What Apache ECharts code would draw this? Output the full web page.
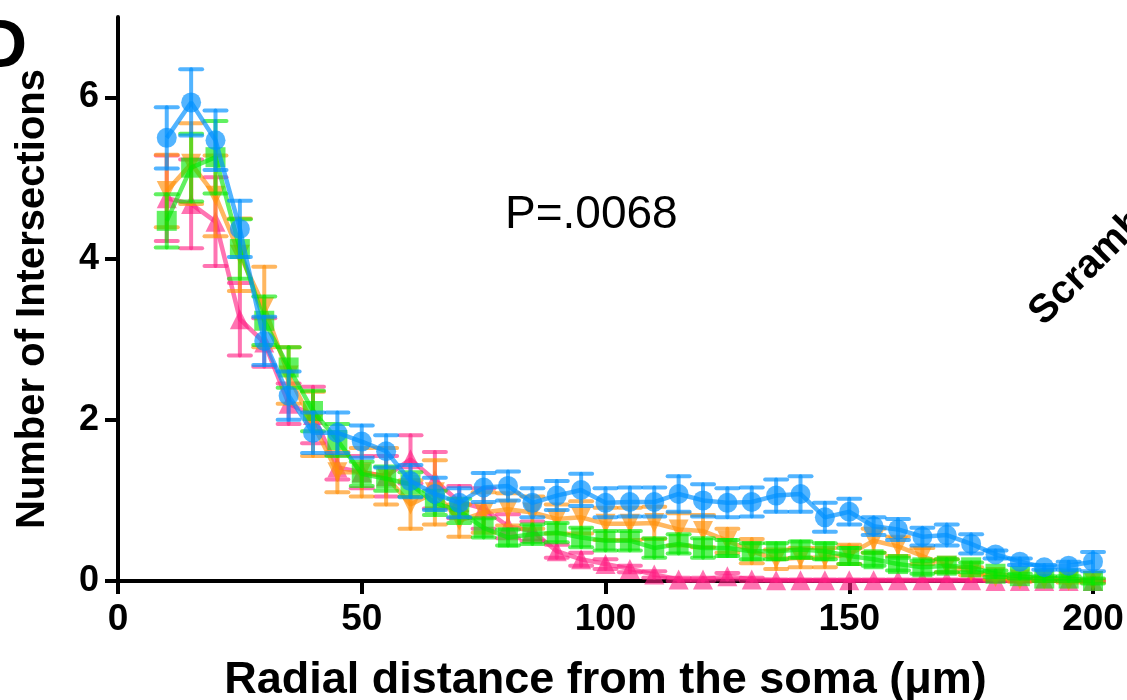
<!DOCTYPE html>
<html>
<head>
<meta charset="utf-8">
<script src="https://cdn.jsdelivr.net/npm/echarts@6/dist/echarts.min.js"></script>
<style>
html,body{margin:0;padding:0;background:#fff;}
#chart{width:1127px;height:700px;}
</style>
</head>
<body>
<div id="chart"></div>
<script>
// Radial distance (µm)
var radius = [10,15,20,25,30,35,40,45,50,55,60,65,70,75,80,85,90,95,100,105,110,115,120,125,130,135,140,145,150,155,160,165,170,175,180,185,190,195,200];

// Blue (circles)
var blueMean = [5.50,5.94,5.47,4.37,2.98,2.30,1.84,1.84,1.73,1.61,1.24,1.08,0.97,1.16,1.18,0.97,1.06,1.13,0.97,0.98,0.98,1.08,1.00,0.97,0.98,1.06,1.08,0.79,0.86,0.68,0.64,0.55,0.57,0.46,0.33,0.24,0.17,0.19,0.24];
var blueErr  = [0.38,0.41,0.37,0.35,0.30,0.30,0.25,0.25,0.20,0.20,0.20,0.20,0.18,0.18,0.18,0.18,0.18,0.20,0.18,0.18,0.18,0.22,0.20,0.18,0.18,0.20,0.22,0.18,0.16,0.11,0.13,0.11,0.13,0.12,0.05,0.04,0.03,0.05,0.12];

// Orange (inverted triangles)
var orangeMean = [4.84,5.18,4.78,4.05,3.40,2.55,1.95,1.35,1.35,1.30,0.95,1.10,0.75,0.85,0.89,0.85,0.77,0.79,0.71,0.71,0.72,0.64,0.62,0.50,0.37,0.27,0.29,0.29,0.33,0.50,0.43,0.31,0.19,0.12,0.05,0.02,0.02,0.00,0.00];
var orangeErr  = [0.45,0.50,0.50,0.45,0.50,0.35,0.40,0.25,0.30,0.35,0.30,0.40,0.20,0.25,0.20,0.20,0.18,0.20,0.20,0.20,0.20,0.20,0.20,0.15,0.15,0.12,0.12,0.12,0.12,0.15,0.12,0.10,0.08,0.05,0.03,0.03,0.02,0.02,0.02];

// Pink (triangles)
var pinkMean = [4.75,4.68,4.46,3.25,2.96,2.20,2.06,1.41,1.35,1.30,1.51,1.25,0.98,0.90,0.68,0.62,0.37,0.27,0.21,0.15,0.08,0.02,0.02,0.06,0.02,0.01,0.01,0.01,0.01,0.01,0.01,0.01,0.01,0.01,0.00,0.00,0.00,0.00,0.00];
var pinkErr  = [0.53,0.55,0.55,0.45,0.30,0.25,0.35,0.15,0.20,0.25,0.30,0.35,0.20,0.25,0.15,0.12,0.08,0.08,0.06,0.04,0.04,0.02,0.02,0.04,0.02,0.01,0.01,0.01,0.01,0.01,0.01,0.01,0.01,0.01,0.00,0.00,0.00,0.00,0.00];

// Green (squares)
var greenMean = [4.47,5.13,5.26,4.12,3.23,2.65,2.11,1.75,1.33,1.27,1.20,0.97,0.87,0.66,0.54,0.58,0.60,0.54,0.50,0.50,0.41,0.46,0.41,0.41,0.37,0.37,0.39,0.37,0.31,0.27,0.21,0.17,0.19,0.17,0.09,0.06,0.03,0.03,0.00];
var greenErr  = [0.33,0.42,0.45,0.37,0.30,0.25,0.25,0.20,0.15,0.15,0.15,0.15,0.15,0.12,0.10,0.12,0.12,0.12,0.12,0.12,0.12,0.12,0.12,0.10,0.10,0.10,0.10,0.10,0.10,0.08,0.08,0.08,0.08,0.06,0.04,0.03,0.03,0.03,0.03];

var xTicks = [0,50,100,150,200];
var yTicks = [0,2,4,6];

var FONT = '"Liberation Sans", Arial, Helvetica, sans-serif';

function pairs(ys){ return radius.map(function(x,i){ return [x, ys[i]]; }); }
function bars(ys, es){ return radius.map(function(x,i){ return [x, ys[i]-es[i], ys[i]+es[i]]; }); }

function errSeries(name, ys, es, color, z){
  return {
    name: name + ' err', type: 'custom', z: z, silent: true,
    data: bars(ys, es),
    encode: { x: 0, y: [1,2] },
    renderItem: function(params, api){
      var x = api.value(0), lo = api.value(1), hi = api.value(2);
      var pt = api.coord([x, hi]), pb = api.coord([x, lo]);
      var h = 11;
      var st = { stroke: color, lineWidth: 4, lineCap: 'round' };
      return { type: 'group', children: [
        { type: 'line', shape: { x1: pt[0], y1: pt[1], x2: pb[0], y2: pb[1] }, style: st },
        { type: 'line', shape: { x1: pt[0]-h, y1: pt[1], x2: pt[0]+h, y2: pt[1] }, style: st },
        { type: 'line', shape: { x1: pb[0]-h, y1: pb[1], x2: pb[0]+h, y2: pb[1] }, style: st }
      ]};
    }
  };
}
function lineSeries(name, ys, color, symbol, rot, z){
  return {
    name: name, type: 'line', z: z, data: pairs(ys),
    symbol: symbol, symbolSize: 20, symbolRotate: rot,
    lineStyle: { color: color, width: 4.5 },
    itemStyle: { color: color },
    emphasis: { disabled: true },
    animation: false
  };
}

var cPink = 'rgba(255,30,130,0.62)';
var cOrange = 'rgba(255,145,10,0.65)';
var cGreen = 'rgba(0,230,0,0.62)';
var cBlue = 'rgba(0,145,255,0.68)';

var chart = echarts.init(document.getElementById('chart'));
chart.setOption({
  animation: false,
  backgroundColor: '#fff',
  grid: { left: 118, right: 34, top: 17, bottom: 119, containLabel: false, outerBoundsMode: 'none' },
  xAxis: {
    type: 'value', min: 0, max: 200, interval: 50,
    name: 'Radial distance from the soma (\u03bcm)',
    nameLocation: 'middle', nameGap: 77,
    nameTextStyle: { fontFamily: FONT, fontWeight: 'bold', fontSize: 45, color: '#000' },
    axisLine: { lineStyle: { color: '#000', width: 4 } },
    axisTick: { length: 13, lineStyle: { color: '#000', width: 4 }, customValues: xTicks },
    axisLabel: { fontFamily: FONT, fontWeight: 'bold', fontSize: 37, color: '#000', margin: 20, customValues: xTicks },
    splitLine: { show: false }
  },
  yAxis: {
    type: 'value', min: 0, max: 7, interval: 2,
    name: 'Number of Intersections',
    nameLocation: 'middle', nameGap: 65, nameRotate: 90,
    nameTextStyle: { fontFamily: FONT, fontWeight: 'bold', fontSize: 40, color: '#000' },
    axisLine: { show: true, lineStyle: { color: '#000', width: 4 } },
    axisTick: { show: true, length: 13, lineStyle: { color: '#000', width: 4 }, customValues: yTicks },
    axisLabel: { fontFamily: FONT, fontWeight: 'bold', fontSize: 36, color: '#000', margin: 19, customValues: yTicks },
    splitLine: { show: false }
  },
  graphic: [
    { type: 'text', x: -22, y: 48, style: { text: 'D', font: 'bold 68px ' + FONT, fill: '#000', align: 'left', verticalAlign: 'middle' } },
    { type: 'text', x: 505, y: 215, style: { text: 'P=.0068', font: '46px ' + FONT, fill: '#000', align: 'left', verticalAlign: 'middle' } },
    { type: 'text', x: 1050, y: 333, rotation: Math.PI/4, style: { text: 'Scrambled', font: 'bold 40px ' + FONT, fill: '#000', align: 'left', verticalAlign: 'bottom' } }
  ],
  series: [
    errSeries('Pink', pinkMean, pinkErr, cPink, 2),
    lineSeries('Pink', pinkMean, cPink, 'triangle', 0, 3),
    errSeries('Orange', orangeMean, orangeErr, cOrange, 4),
    lineSeries('Orange', orangeMean, cOrange, 'triangle', 180, 5),
    errSeries('Green', greenMean, greenErr, cGreen, 6),
    lineSeries('Green', greenMean, cGreen, 'rect', 0, 7),
    errSeries('Blue', blueMean, blueErr, cBlue, 8),
    lineSeries('Blue', blueMean, cBlue, 'circle', 0, 9)
  ]
});
</script>
</body>
</html>
